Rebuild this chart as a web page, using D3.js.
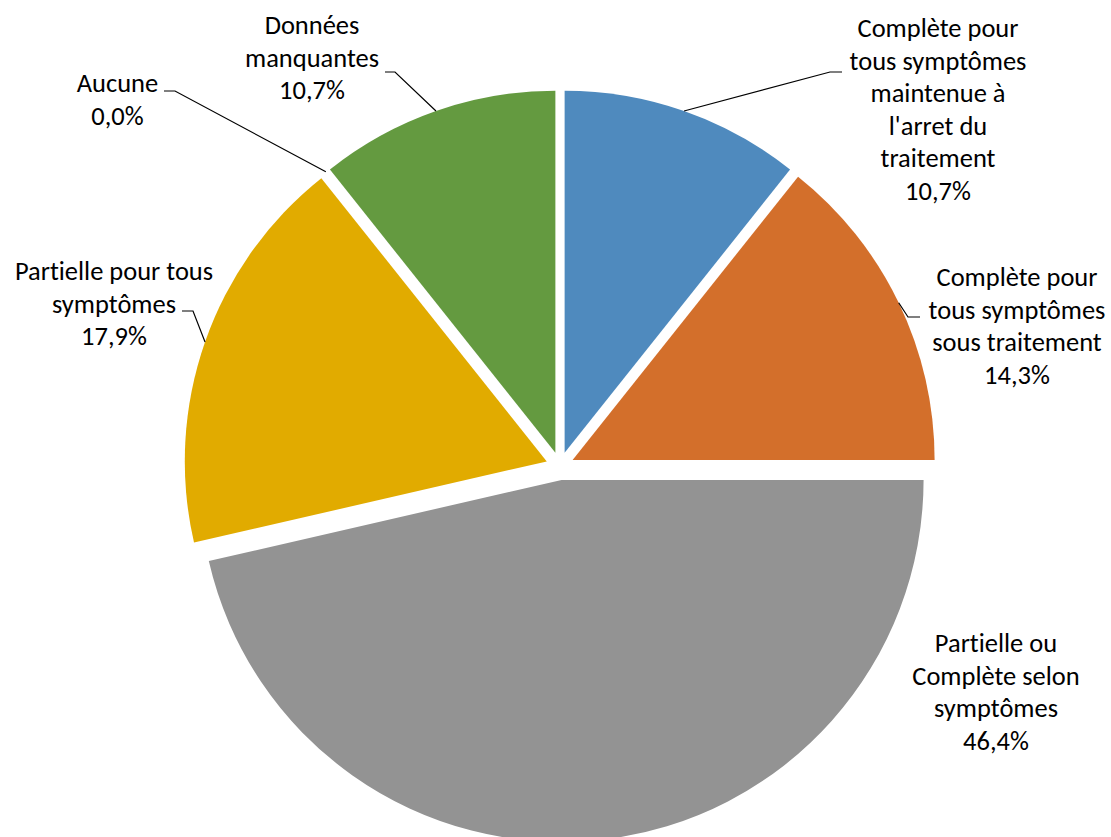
<!DOCTYPE html>
<html>
<head>
<meta charset="utf-8">
<script src="https://cdn.jsdelivr.net/npm/d3@7/dist/d3.min.js"></script>
<style>
  html, body { margin: 0; padding: 0; background: #ffffff; }
  svg { display: block; }
  text { font-variant-ligatures: none; font-feature-settings: "liga" 0, "clig" 0; }
</style>
</head>
<body>
<svg id="chart" width="1111" height="837"></svg>
<script>
// ---- data ----
const categories = [
  "Complète pour tous symptômes maintenue à l'arret du traitement",
  "Complète pour tous symptômes sous traitement",
  "Partielle ou Complète selon symptômes",
  "Partielle pour tous symptômes",
  "Aucune",
  "Données manquantes"
];
const values = [10.7, 14.3, 46.4, 17.9, 0.0, 10.7];
const labelLines = [
  ["Complète pour", "tous symptômes", "maintenue à", "l'arret du", "traitement"],
  ["Complète pour", "tous symptômes", "sous traitement"],
  ["Partielle ou", "Complète selon", "symptômes"],
  ["Partielle pour tous", "symptômes"],
  ["Aucune"],
  ["Données", "manquantes"]
];
const colors = ["#4F8ABE", "#D36F2B", "#939393", "#E1AB00", "#E1AB00", "#649A40"];

// ---- layout (positions / styles) ----
const cx = 560, cy = 466, R = 362, explode = 14;
const lineH = 32.5;
// label center x, first baseline y, leader elbow points (null = no leader)
const labelLayout = [
  { x: 938,  y: 37,  elbow: [[830, 72], [842, 72]] },
  { x: 1017, y: 286, elbow: [[908, 317], [920, 317]] },
  { x: 996,  y: 652, elbow: null },
  { x: 114,  y: 280, elbow: [[193, 311], [182, 311]] },
  { x: 117.5,y: 92,  elbow: [[175, 91], [164, 91]] },
  { x: 312,  y: 34,  elbow: [[395, 72], [385, 72]] }
];

const fam = "Carlito, Calibri, Lato, 'Open Sans', sans-serif";
const svg = d3.select("#chart");
svg.append("rect").attr("width", 1111).attr("height", 837).attr("fill", "#fff");

// fit font size to match reference text widths
const probe = svg.append("text").attr("font-family", fam).attr("font-size", 100).text("Complète pour");
const pw = probe.node().getComputedTextLength();
probe.remove();
const fontSize = Math.min(27, 100 * 161 / pw);

const pie = d3.pie().sort(null).value(d => d).startAngle(0).endAngle(2 * Math.PI);
const arcs = pie(values);
const arc = d3.arc().innerRadius(0).outerRadius(R);

const g = svg.append("g").attr("transform", `translate(${cx},${cy})`);

arcs.forEach((a, i) => {
  const mid = (a.startAngle + a.endAngle) / 2;
  const ox = Math.sin(mid) * explode, oy = -Math.cos(mid) * explode;
  if (a.endAngle > a.startAngle) {
    g.append("path")
      .attr("d", arc(a))
      .attr("transform", `translate(${ox},${oy})`)
      .attr("fill", colors[i]);
  }
  const L = labelLayout[i];
  if (L.elbow) {
    const px = cx + ox + Math.sin(mid) * R;
    const py = cy + oy - Math.cos(mid) * R;
    const pts = [[px, py]].concat(L.elbow);
    svg.append("path")
      .attr("d", d3.line()(pts))
      .attr("fill", "none")
      .attr("stroke", "#000")
      .attr("stroke-width", 1.2);
  }
  const lines = labelLines[i].concat([d3.format(".1f")(values[i]).replace(".", ",") + "%"]);
  const t = svg.append("text")
    .attr("font-family", fam)
    .attr("font-size", fontSize)
    .attr("fill", "#000")
    .attr("text-anchor", "middle");
  lines.forEach((s, k) => {
    t.append("tspan").attr("x", L.x).attr("y", L.y + k * lineH).text(s);
  });
});
</script>
</body>
</html>
